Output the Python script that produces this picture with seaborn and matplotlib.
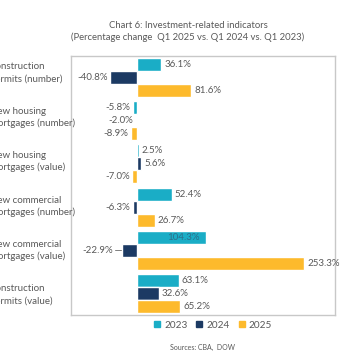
import pandas as pd
import matplotlib.pyplot as plt
import seaborn as sns

# chart values
categories = [
    'Construction\npermits (number)',
    'New housing\nmortgages (number)',
    'New housing\nmortgages (value)',
    'New commercial\nmortgages (number)',
    'New commercial\nmortgages (value)',
    'Construction\npermits (value)',
]
years = ['2023', '2024', '2025']
v2023 = [36.1, -5.8, 2.5, 52.4, 104.3, 63.1]
v2024 = [-40.8, -2.0, 5.6, -6.3, -22.9, 32.6]
v2025 = [81.6, -8.9, -7.0, 26.7, 253.3, 65.2]
colors = ['#1AADC6', '#1C3A63', '#FDBA2C']

df = pd.DataFrame({
    'cat': categories * 3,
    'year': [y for y in years for _ in categories],
    'value': v2023 + v2024 + v2025,
})

sns.set_style('white')
plt.rcParams['font.family'] = ['Lato', 'DejaVu Sans']

fig = plt.figure(figsize=(3.56, 3.64), dpi=100)
ax = fig.add_axes([71 / 356, 1 - 315 / 364, 264 / 356, 259 / 364])

sns.barplot(data=df, y='cat', x='value', hue='year', palette=colors,
            width=0.9, orient='h', ax=ax, legend=False, saturation=1)

ax.set_xlim(-100, 300)
ax.set_ylim(5.5, -0.5)
ax.set_xticks([])
ax.set_yticks([])
ax.set_xlabel('')
ax.set_ylabel('')
for s in ax.spines.values():
    s.set_color('#c8c8c8')
    s.set_linewidth(1.0)

lab_color = '#595959'
fs = 7
offs = [-0.3, 0.0, 0.3]
for j, vals in enumerate([v2023, v2024, v2025]):
    for i, v in enumerate(vals):
        y = i + offs[j]
        txt = f'{v:.1f}%'
        if i == 4 and j == 0:
            # label sits on the bar in the original
            ax.text(70, y, txt, va='center', ha='center', fontsize=fs, color='#2d6f8a')
        elif i == 4 and j == 1:
            ax.text(v - 13, y, txt, va='center', ha='right', fontsize=fs, color=lab_color)
            ax.plot([v - 11, v - 1], [y, y], color='#7f7f7f', lw=0.7)
        elif v >= 0:
            ax.text(v + 5, y, txt, va='center', ha='left', fontsize=fs, color=lab_color)
        else:
            ax.text(v - 4, y, txt, va='center', ha='right', fontsize=fs, color=lab_color)

# category labels (left part runs off the figure, as in the original)
for i, c in enumerate(categories):
    yfig = 1 - (73 + 44.4 * i) / 364
    fig.text(-10 / 356, yfig, c, ha='left', va='center', fontsize=fs,
             color=lab_color, linespacing=1.35)

fig.text(188 / 356, 1 - 25 / 364, 'Chart 6: Investment-related indicators',
         ha='center', va='center', fontsize=6.8, color=lab_color)
fig.text(188 / 356, 1 - 37 / 364, '(Percentage change  Q1 2025 vs. Q1 2024 vs. Q1 2023)',
         ha='center', va='center', fontsize=6.8, color=lab_color)

handles = [plt.Rectangle((0, 0), 1, 1, color=c) for c in colors]
fig.legend(handles, years, loc='center', bbox_to_anchor=(213 / 356, 1 - 325 / 364),
           ncol=3, frameon=False, fontsize=7.2, handlelength=0.6, handleheight=0.6,
           handletextpad=0.4, columnspacing=0.9, labelcolor=lab_color)

fig.text(202 / 356, 1 - 347 / 364, 'Sources: CBA,  DOW', ha='center', va='center',
         fontsize=5, color=lab_color)

plt.savefig('out.png', dpi=100)
